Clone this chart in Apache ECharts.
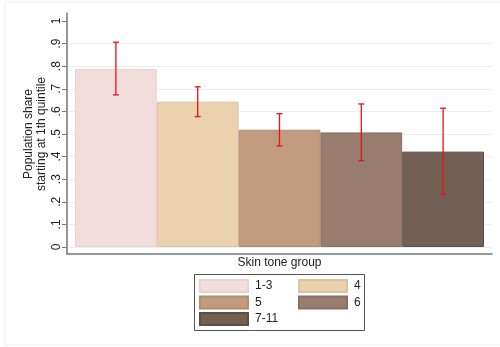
<!DOCTYPE html>
<html>
<head>
<meta charset="utf-8">
<script src="https://cdn.jsdelivr.net/npm/echarts@6/dist/echarts.min.js"></script>
<style>
  html, body { margin: 0; padding: 0; background: #fff; }
  #chart { width: 500px; height: 347px; }
</style>
</head>
<body>
<div id="chart"></div>
<script>
// Skin tone groups and the share starting in the 1st quintile, with 95% CI bounds
const groups = ['1-3', '4', '5', '6', '7-11'];
const shares = [0.788, 0.643, 0.519, 0.507, 0.422];
const ciLow  = [0.673, 0.577, 0.447, 0.382, 0.233];
const ciHigh = [0.906, 0.709, 0.590, 0.633, 0.614];
const yTicks = [0, 0.1, 0.2, 0.3, 0.4, 0.5, 0.6, 0.7, 0.8, 0.9, 1];
const yTickLabels = ['0', '.1', '.2', '.3', '.4', '.5', '.6', '.7', '.8', '.9', '1'];

const fills   = ['#f2dddd', '#ead2af', '#c09b7d', '#987d6f', '#736055'];
const borders = ['#ead0d0', '#dcc39f', '#b08b6d', '#8a6f62', '#5f4d44'];

const FONT = 'Liberation Sans, Arial, sans-serif';

const chart = echarts.init(document.getElementById('chart'), null, { renderer: 'canvas' });

// one bar series per group, each only filled at its own category
const barSeries = groups.map((g, i) => ({
  name: g,
  type: 'bar',
  xAxisIndex: 2,
  yAxisIndex: 2,
  stack: 'groups',
  barWidth: '100%',
  data: groups.map((_, j) => (j === i ? shares[i] : null)),
  itemStyle: { color: fills[i], borderColor: borders[i], borderWidth: 1 },
  emphasis: { disabled: true },
  z: 2
}));

const errorSeries = {
  type: 'custom',
  xAxisIndex: 2,
  yAxisIndex: 2,
  z: 5,
  data: groups.map((_, i) => [i, ciLow[i], ciHigh[i]]),
  renderItem: function (params, api) {
    const x = api.value(0);
    const lo = api.coord([x, api.value(1)]);
    const hi = api.coord([x, api.value(2)]);
    const cap = 3;
    const style = { stroke: '#ee1111', lineWidth: 1.3 };
    return {
      type: 'group',
      children: [
        { type: 'line', shape: { x1: hi[0], y1: hi[1], x2: lo[0], y2: lo[1] }, style },
        { type: 'line', shape: { x1: hi[0] - cap, y1: hi[1], x2: hi[0] + cap, y2: hi[1] }, style },
        { type: 'line', shape: { x1: lo[0] - cap, y1: lo[1], x2: lo[0] + cap, y2: lo[1] }, style }
      ]
    };
  }
};

// legend entries laid out in two columns
const legendSpots = [[199, 279], [298, 279], [199, 295.5], [298, 295.5], [199, 312]];
const legends = groups.map((g, i) => ({
  data: [{ name: g, icon: 'rect' }],
  left: legendSpots[i][0],
  top: legendSpots[i][1],
  padding: 0,
  itemWidth: 48,
  itemHeight: 12,
  itemGap: 0,
  selectedMode: false,
  textStyle: { fontFamily: FONT, fontSize: 12, color: '#222', padding: [0, 0, 0, 2] }
}));

const option = {
  backgroundColor: '#fff',
  animation: false,
  grid: [
    { left: 67, right: 8, top: 21, bottom: 100 },   // tick labels + gridlines
    { left: 67, right: 8, top: 13, bottom: 93 },    // axis lines
    { left: 75, right: 16, top: 21, bottom: 100 }   // bars
  ],
  xAxis: [
    { gridIndex: 0, type: 'value', min: 0, max: 1, show: false },
    {
      gridIndex: 1, type: 'value', min: 0, max: 1,
      axisLine: { show: true, lineStyle: { color: '#777', width: 1.5 } },
      axisTick: { show: false }, axisLabel: { show: false }, splitLine: { show: false },
      name: 'Skin tone group', nameLocation: 'middle', nameGap: 3,
      nameTextStyle: { fontFamily: FONT, fontSize: 12, color: '#222', verticalAlign: 'top' }
    },
    {
      gridIndex: 2, type: 'category', data: groups, show: false,
      axisLine: { show: false }
    }
  ],
  yAxis: [
    {
      gridIndex: 0, type: 'value', min: 0, max: 1, interval: 0.1,
      axisLine: { show: false },
      axisTick: { show: true, length: 5, lineStyle: { color: '#777', width: 1 } },
      axisLabel: {
        rotate: 90, margin: 4, fontFamily: FONT, fontSize: 12, color: '#222',
        formatter: function (v) {
          const k = yTicks.findIndex(t => Math.abs(t - v) < 1e-6);
          return k >= 0 ? yTickLabels[k] : '';
        }
      },
      splitLine: { show: true, showMaxLine: false, lineStyle: { color: '#e9f0f1', width: 1 } },
      name: 'Population share\nstarting at 1th quintile',
      nameLocation: 'middle', nameRotate: 90, nameGap: 19, nameMoveOverlap: false,
      nameTextStyle: { fontFamily: FONT, fontSize: 12, color: '#222', lineHeight: 13 }
    },
    {
      gridIndex: 1, type: 'value', min: 0, max: 1,
      axisLine: { show: true, lineStyle: { color: '#777', width: 1.5 } },
      axisTick: { show: false }, axisLabel: { show: false }, splitLine: { show: false }
    },
    { gridIndex: 2, type: 'value', min: 0, max: 1, show: false, splitLine: { show: false } }
  ],
  legend: legends,
  graphic: [
    {
      type: 'rect', silent: true, z: -10,
      shape: { x: 5, y: 2, width: 497, height: 343 },
      style: { fill: 'none', stroke: '#edf2f2', lineWidth: 1 }
    },
    {
      type: 'rect', silent: true,
      shape: { x: 194.5, y: 274.5, width: 170, height: 56 },
      style: { fill: 'none', stroke: '#555', lineWidth: 1 }
    }
  ],
  series: barSeries.concat([errorSeries])
};

chart.setOption(option);
</script>
</body>
</html>
